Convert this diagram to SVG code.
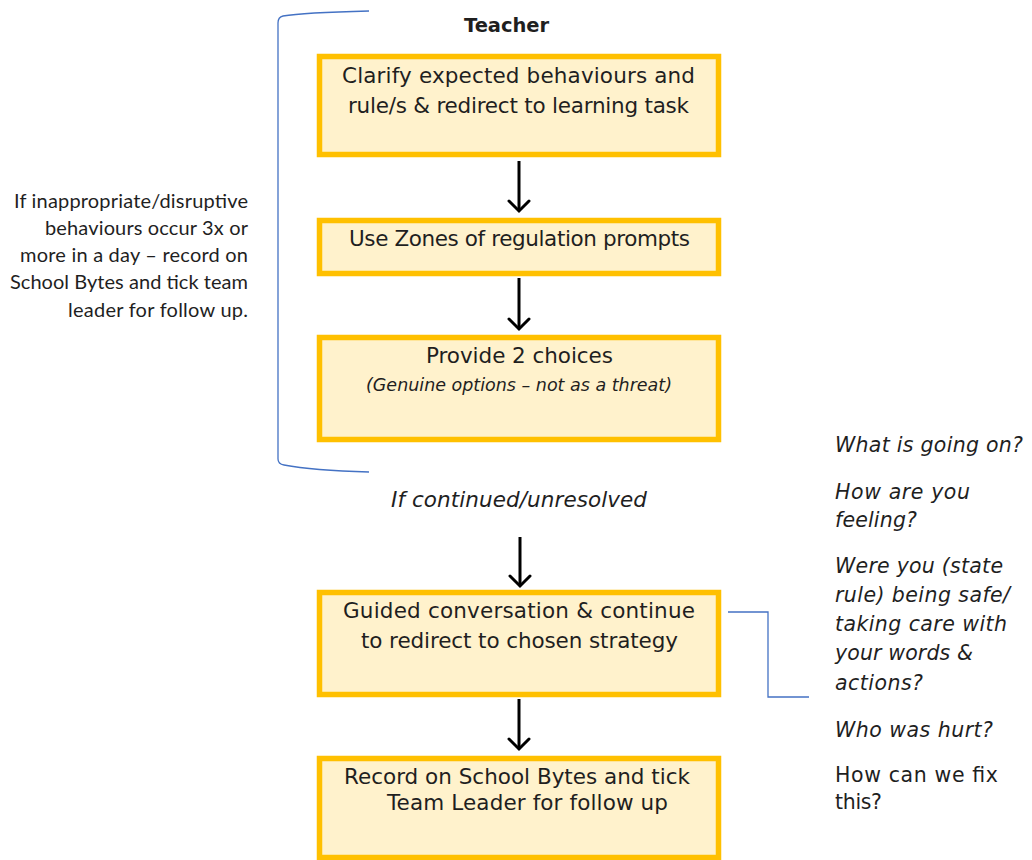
<svg xmlns="http://www.w3.org/2000/svg" width="1032" height="860" viewBox="0 0 1032 860">
  <style>
    .box { fill: #FFF2CC; stroke: #FFC000; stroke-width: 5.5; }
    .t { font-family: "DejaVu Sans", "Liberation Sans", sans-serif; fill: #1f1f1f; }
    .bx { font-size: 21.5px; text-anchor: middle; }
    .sub { font-size: 17.5px; }
    .it { font-style: italic; }
    .side { font-family: Lato, "Liberation Sans", sans-serif; font-size: 20px; fill: #1f1f1f; text-anchor: end; }
    .q { font-size: 20.5px; }
    .arrow { stroke: #000; stroke-width: 3; fill: none; marker-end: url(#head); }
    .blue { stroke: #4472C4; stroke-width: 1.3; fill: none; }
  </style>
  <defs>
    <marker id="head" markerUnits="userSpaceOnUse" markerWidth="16" markerHeight="26" viewBox="0 0 16 26" refX="13" refY="13" orient="auto">
      <path d="M3,3 L13,13 L3,23" fill="none" stroke="#000" stroke-width="3" stroke-linecap="round" stroke-linejoin="miter"/>
    </marker>
  </defs>

  <rect width="1032" height="860" fill="#fff"/>

  <!-- heading -->
  <text id="heading" class="t" x="506.5" y="32" font-size="19.5" font-weight="bold" text-anchor="middle" textLength="85">Teacher</text>

  <!-- side note on the left -->
  <g id="note-left">
    <text class="side" x="248" y="208" textLength="234">If inappropriate/disruptive</text>
    <text class="side" x="248" y="235" textLength="203">behaviours occur 3x or</text>
    <text class="side" x="248" y="262" textLength="228">more in a day – record on</text>
    <text class="side" x="248" y="289" textLength="238">School Bytes and tick team</text>
    <text class="side" x="248" y="317" textLength="180">leader for follow up.</text>
  </g>

  <!-- steps -->
  <g id="step-clarify">
    <rect class="box" x="319.5" y="56.5" width="399" height="98"/>
    <text class="t bx" x="518.5" y="83" textLength="353">Clarify expected behaviours and</text>
    <text class="t bx" x="518.5" y="113" textLength="341">rule/s &amp; redirect to learning task</text>
  </g>

  <g id="step-zones">
    <rect class="box" x="319.5" y="220.5" width="399" height="53"/>
    <text class="t bx" x="519.5" y="246" textLength="341">Use Zones of regulation prompts</text>
  </g>

  <g id="step-choices">
    <rect class="box" x="319.5" y="337.5" width="399" height="102"/>
    <text class="t bx" x="519.5" y="363" textLength="187">Provide 2 choices</text>
    <text class="t bx sub it" x="519" y="391" textLength="306">(Genuine options – not as a threat)</text>
  </g>

  <g id="label-continued">
    <text class="t bx it" x="519" y="507" textLength="256">If continued/unresolved</text>
  </g>

  <g id="step-conversation">
    <rect class="box" x="319.5" y="592.5" width="399" height="102"/>
    <text class="t bx" x="519" y="618" textLength="352">Guided conversation &amp; continue</text>
    <text class="t bx" x="519.5" y="648" textLength="317">to redirect to chosen strategy</text>
  </g>

  <g id="step-record">
    <rect class="box" x="319.5" y="758.5" width="399" height="99"/>
    <text class="t bx" x="517" y="784" textLength="346">Record on School Bytes and tick</text>
    <text class="t bx" x="527.5" y="810" textLength="281">Team Leader for follow up</text>
  </g>

  <!-- guiding questions -->
  <g id="questions">
    <text class="t q it" x="835" y="452" textLength="188">What is going on?</text>
    <text class="t q it" x="835" y="499" textLength="135">How are you</text>
    <text class="t q it" x="835" y="527" textLength="82">feeling?</text>
    <text class="t q it" x="835" y="573" textLength="168">Were you (state</text>
    <text class="t q it" x="835" y="602" textLength="175">rule) being safe/</text>
    <text class="t q it" x="835" y="631" textLength="172">taking care with</text>
    <text class="t q it" x="835" y="660" textLength="138">your words &amp;</text>
    <text class="t q it" x="835" y="690" textLength="88">actions?</text>
    <text class="t q it" x="835" y="737" textLength="158">Who was hurt?</text>
    <text class="t q" x="835" y="782" textLength="163">How can we fix</text>
    <text class="t q" x="835" y="809" textLength="47">this?</text>
  </g>

  <!-- connectors -->
  <g id="connectors">
    <path class="arrow" d="M519,161 L519,211"/>
    <path class="arrow" d="M519,278 L519,329"/>
    <path class="arrow" d="M520,537 L520,586"/>
    <path class="arrow" d="M519,699 L519,749"/>
    <!-- bracket grouping the first three steps -->
    <path class="blue" d="M369,11 C330,12 295,14 283,16 Q278,17 278,23 L278,459 Q278,464 284,465 C300,468 335,471 369,472"/>
    <!-- link from conversation step to the questions -->
    <path class="blue" d="M728,612 L768,612 L768,697 L809,697"/>
  </g>
</svg>
